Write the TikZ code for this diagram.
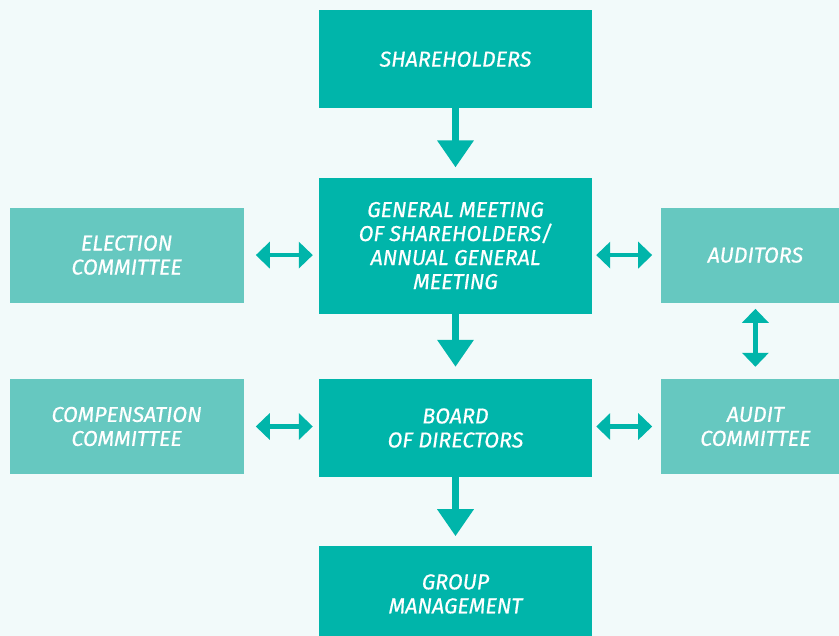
\documentclass[tikz,border=0pt]{standalone}
\usepackage{fontspec}
\setmainfont{Fira Sans}[ItalicFeatures={FakeBold=0.6}]
\usetikzlibrary{positioning,arrows.meta}
\definecolor{teal1}{RGB}{0,181,170}
\definecolor{teal2}{RGB}{102,200,192}
\definecolor{bgcol}{RGB}{242,250,250}

\begin{document}
\begin{tikzpicture}[x=1pt, y=1pt,
        box/.style={fill=teal1, text=white, inner sep=0pt, align=center,
            font=\fontsize{21.5}{24}\selectfont\itshape, minimum width=273pt},
        sidebox/.style={box, fill=teal2},
        down/.style={teal1, line width=7pt, -{Triangle[width=35pt,length=27pt]}},
        both/.style={teal1, line width=4.5pt, {Triangle[width=26pt,length=14pt]}-{Triangle[width=26pt,length=14pt]}}]
            \useasboundingbox (0,0) rectangle (839,-636);
            \fill[bgcol] (0,0) rectangle (839,-636);
            \clip (0,0) rectangle (839,-636);
            \node[box, minimum height=98pt, anchor=north](sh) at (455.5,-10) {SHAREHOLDERS};
            \node[box, minimum height=136pt](gm)[below=69pt of sh] {GENERAL MEETING\\OF SHAREHOLDERS/\\ANNUAL GENERAL\\MEETING};
            \node[box, minimum height=98pt](board)[below=65pt of gm] {BOARD\\OF DIRECTORS};
            \node[box, minimum height=95pt](group)[below=69pt of board] {GROUP\\MANAGEMENT};
            \node[sidebox, minimum width=234pt, minimum height=95pt](elec)[left=75pt of gm, yshift=-9.5pt] {ELECTION\\COMMITTEE};
            \node[sidebox, minimum width=188pt, minimum height=95pt](aud)[right=69pt of gm, yshift=-9.5pt] {AUDITORS};
            \node[sidebox, minimum width=234pt, minimum height=95pt](comp)[left=75pt of board, yshift=1.5pt] {COMPENSATION\\COMMITTEE};
            \node[sidebox, minimum width=188pt, minimum height=95pt](audc)[right=69pt of board, yshift=1.5pt] {AUDIT\\COMMITTEE};
            \draw[down, shorten >=10pt] (sh) -- (gm);
            \draw[down, shorten >=12pt] (gm) -- (board);
            \draw[down, shorten >=10pt] (board) -- (group);
            \draw[both, shorten <=12pt, shorten >=6pt] (elec.east) -- (elec.east -| gm.west);
            \draw[both, shorten <=4pt, shorten >=9pt] (gm.east |- aud.west) -- (aud.west);
            \draw[both, shorten <=12pt, shorten >=6pt] (comp.east) -- (comp.east -| board.west);
            \draw[both, shorten <=4pt, shorten >=9pt] (board.east |- audc.west) -- (audc.west);
            \draw[both, shorten <=6pt, shorten >=12pt] (aud) -- (audc);
        \end{tikzpicture}
\end{document}
